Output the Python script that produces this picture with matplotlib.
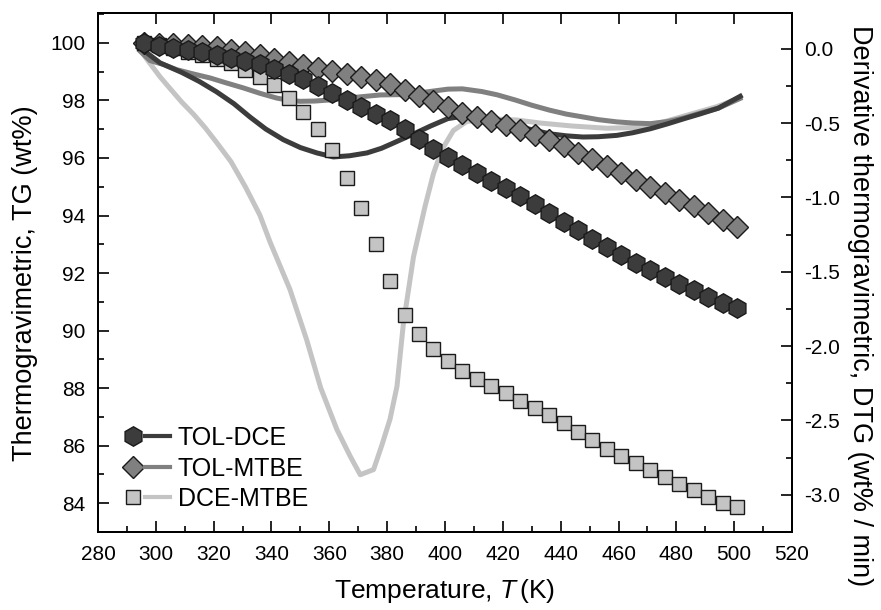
import matplotlib
matplotlib.use("Agg")
import matplotlib.pyplot as plt
from matplotlib.lines import Line2D
from matplotlib.legend_handler import HandlerTuple
from matplotlib.ticker import MultipleLocator, FormatStrFormatter

plt.rcParams['font.family'] = ['Liberation Sans', 'DejaVu Sans']
plt.rcParams['mathtext.fontset'] = 'custom'
plt.rcParams['mathtext.rm'] = 'Liberation Sans'
plt.rcParams['mathtext.it'] = 'Liberation Sans:italic'

# ---- TG data (wt%), sampled every 5 K ----
temp_tg = [296, 301, 306, 311, 316, 321, 326, 331, 336, 341,
           346, 351, 356, 361, 366, 371, 376, 381, 386, 391,
           396, 401, 406, 411, 416, 421, 426, 431, 436, 441,
           446, 451, 456, 461, 466, 471, 476, 481, 486, 491,
           496, 501]

tg_tol_dce = [100.0, 99.90, 99.84, 99.76, 99.68, 99.58, 99.49, 99.38, 99.26, 99.11,
              98.93, 98.74, 98.50, 98.27, 98.02, 97.76, 97.52, 97.33, 97.02, 96.66,
              96.32, 96.02, 95.74, 95.48, 95.21, 94.95, 94.68, 94.40, 94.10, 93.78,
              93.48, 93.18, 92.89, 92.62, 92.36, 92.10, 91.86, 91.62, 91.40, 91.18,
              90.97, 90.78]

tg_tol_mtbe = [100.0, 99.97, 99.95, 99.92, 99.89, 99.85, 99.77, 99.67, 99.57, 99.45,
               99.35, 99.24, 99.13, 99.02, 98.92, 98.82, 98.71, 98.56, 98.38, 98.17,
               97.97, 97.76, 97.58, 97.44, 97.30, 97.14, 96.97, 96.80, 96.62, 96.41,
               96.19, 95.96, 95.72, 95.48, 95.24, 95.00, 94.77, 94.54, 94.32, 94.10,
               93.85, 93.60]

tg_dce_mtbe = [100.0, 99.92, 99.82, 99.70, 99.57, 99.44, 99.29, 99.06, 98.81, 98.52,
               98.10, 97.61, 97.01, 96.28, 95.32, 94.27, 93.01, 91.72, 90.56, 89.87,
               89.35, 88.93, 88.59, 88.33, 88.08, 87.82, 87.57, 87.31, 87.05, 86.78,
               86.49, 86.21, 85.90, 85.63, 85.40, 85.14, 84.90, 84.67, 84.45, 84.22,
               84.02, 83.86]

# ---- DTG data (wt% / min) ----
temp_dtg_tol_dce = [295.7, 301.5, 309, 315, 321, 327, 332.6, 338, 344.1, 350,
                    355.7, 361.4, 367, 373, 378, 382.2, 389.3, 395, 401, 405,
                    408.7, 412, 415.6, 420, 425, 430, 436.1, 442, 447.7, 453,
                    459.4, 465, 471.1, 477, 482.8, 488, 494.5, 502.1]
dtg_tol_dce = [-0.01, -0.096, -0.16, -0.22, -0.29, -0.37, -0.46, -0.54, -0.612, -0.665,
               -0.701, -0.728, -0.72, -0.701, -0.67, -0.634, -0.572, -0.52, -0.47, -0.458,
               -0.455, -0.458, -0.466, -0.49, -0.52, -0.545, -0.572, -0.586, -0.594, -0.592,
               -0.583, -0.565, -0.538, -0.505, -0.47, -0.44, -0.40, -0.32]

temp_dtg_tol_mtbe = [294.5, 298, 302.6, 307.2, 313, 318.8, 324, 330.3, 336, 341.8,
                     346, 349.9, 355, 361.4, 369, 377.6, 384.5, 392, 401, 406,
                     412.7, 418, 424.3, 430, 436.1, 442, 447.7, 453, 459.4, 465,
                     471.1, 477, 482.8, 488, 494.5, 502]
dtg_tol_mtbe = [-0.015, -0.08, -0.106, -0.141, -0.17, -0.197, -0.228, -0.264, -0.30, -0.332,
                -0.347, -0.354, -0.352, -0.343, -0.327, -0.311, -0.309, -0.295, -0.272, -0.27,
                -0.288, -0.31, -0.345, -0.38, -0.413, -0.44, -0.459, -0.477, -0.492, -0.50,
                -0.504, -0.49, -0.465, -0.435, -0.40, -0.335]

temp_dtg_dce_mtbe = [295, 298, 301.5, 305, 309, 313, 317, 321, 326, 331,
                     336, 339.5, 346.4, 352.2, 357, 362.6, 367.2, 370.7, 375.3, 378.1,
                     381, 383.4, 385.6, 389.1, 393.1, 396, 398.9, 402.9, 407.5, 415,
                     425, 433, 444, 456, 466, 476, 485, 494, 502]
dtg_dce_mtbe = [-0.02, -0.10, -0.19, -0.27, -0.36, -0.44, -0.53, -0.63, -0.76, -0.93,
                -1.12, -1.30, -1.62, -1.96, -2.28, -2.56, -2.74, -2.865, -2.83, -2.67,
                -2.49, -2.27, -1.85, -1.40, -1.06, -0.84, -0.68, -0.55, -0.49, -0.47,
                -0.48, -0.50, -0.52, -0.535, -0.53, -0.49, -0.44, -0.39, -0.33]

labels = ['TOL-DCE', 'TOL-MTBE', 'DCE-MTBE']
line_colors = ['#3c3c3c', '#808080', '#c4c4c4']
fill_colors = ['#3c3c3c', '#808080', '#c4c4c4']
marker_styles = ['h', 'D', 's']
marker_sizes = [14, 11.5, 10.5]

fig = plt.figure(figsize=(8.81, 6.10), dpi=100)
ax = fig.add_axes([98 / 881, 1 - 532 / 610, (792 - 98) / 881, (532 - 13) / 610])
ax2 = ax.twinx()
ax2.set_zorder(1)
ax.set_zorder(2)
ax.patch.set_visible(False)

# DTG curves (right axis)
lw = 3.6
ax2.plot(temp_dtg_dce_mtbe, dtg_dce_mtbe, color=line_colors[2], lw=lw, solid_joinstyle='round')
ax2.plot(temp_dtg_tol_mtbe, dtg_tol_mtbe, color=line_colors[1], lw=lw, solid_joinstyle='round')
ax2.plot(temp_dtg_tol_dce, dtg_tol_dce, color=line_colors[0], lw=lw, solid_joinstyle='round')

# TG curves (left axis)
tg_series = [tg_tol_dce, tg_tol_mtbe, tg_dce_mtbe]
for i in (2, 1, 0):
    ax.plot(temp_tg, tg_series[i], ls='none', marker=marker_styles[i],
            ms=marker_sizes[i], mfc=fill_colors[i], mec='#1a1a1a', mew=1.0)

ax.set_xlim(280, 520)
ax.set_ylim(83, 101.04)
ax2.set_ylim(-3.25, 0.24)

ax.xaxis.set_major_locator(MultipleLocator(20))
ax.xaxis.set_minor_locator(MultipleLocator(10))
ax.yaxis.set_major_locator(MultipleLocator(2))
ax.yaxis.set_minor_locator(MultipleLocator(1))
ax2.yaxis.set_major_locator(MultipleLocator(0.5))
ax2.yaxis.set_minor_locator(MultipleLocator(0.25))
ax2.yaxis.set_major_formatter(FormatStrFormatter('%.1f'))

tick_fs = 15
ax.tick_params(axis='x', which='major', direction='in', length=8, width=1.2,
               top=True, labelsize=tick_fs, pad=9)
ax.tick_params(axis='x', which='minor', direction='in', length=4.5, width=1.2,
               top=False)
ax.tick_params(axis='y', which='major', direction='in', length=8, width=1.2,
               right=False, labelsize=tick_fs, pad=9)
ax.tick_params(axis='y', which='minor', direction='in', length=4.5, width=1.2, right=False)
ax2.tick_params(axis='y', which='major', direction='in', length=8, width=1.2,
                labelsize=tick_fs, pad=9)
ax2.tick_params(axis='y', which='minor', direction='in', length=4.5, width=1.2)

for a in (ax, ax2):
    for s in a.spines.values():
        s.set_linewidth(1.4)

ax.set_xlabel('Temperature, $T\\,$(K)', fontsize=19, labelpad=10)
ax.set_ylabel('Thermogravimetric, TG (wt%)', fontsize=19.5)
ax.yaxis.set_label_coords(-0.087, 0.48)
ax2.set_ylabel('Derivative thermogravimetric, DTG (wt% / min)', fontsize=19.5,
               rotation=270, va='center', ha='center')
ax2.yaxis.set_label_coords(1.098, 0.437)

handles = []
for i in range(3):
    mk = Line2D([], [], ls='none', marker=marker_styles[i], ms=marker_sizes[i],
                mfc=fill_colors[i], mec='#1a1a1a', mew=1.0)
    ln = Line2D([], [], color=line_colors[i], lw=3.0)
    handles.append((mk, ln))

ax.legend(handles, labels, handler_map={tuple: HandlerTuple(ndivide=2, pad=0.0)},
          loc='lower left', bbox_to_anchor=(0.018, 0.021), frameon=False,
          fontsize=18, handlelength=2.0, handletextpad=0.3, labelspacing=0.26,
          borderaxespad=0.0)

fig.savefig('out.png', dpi=100)
